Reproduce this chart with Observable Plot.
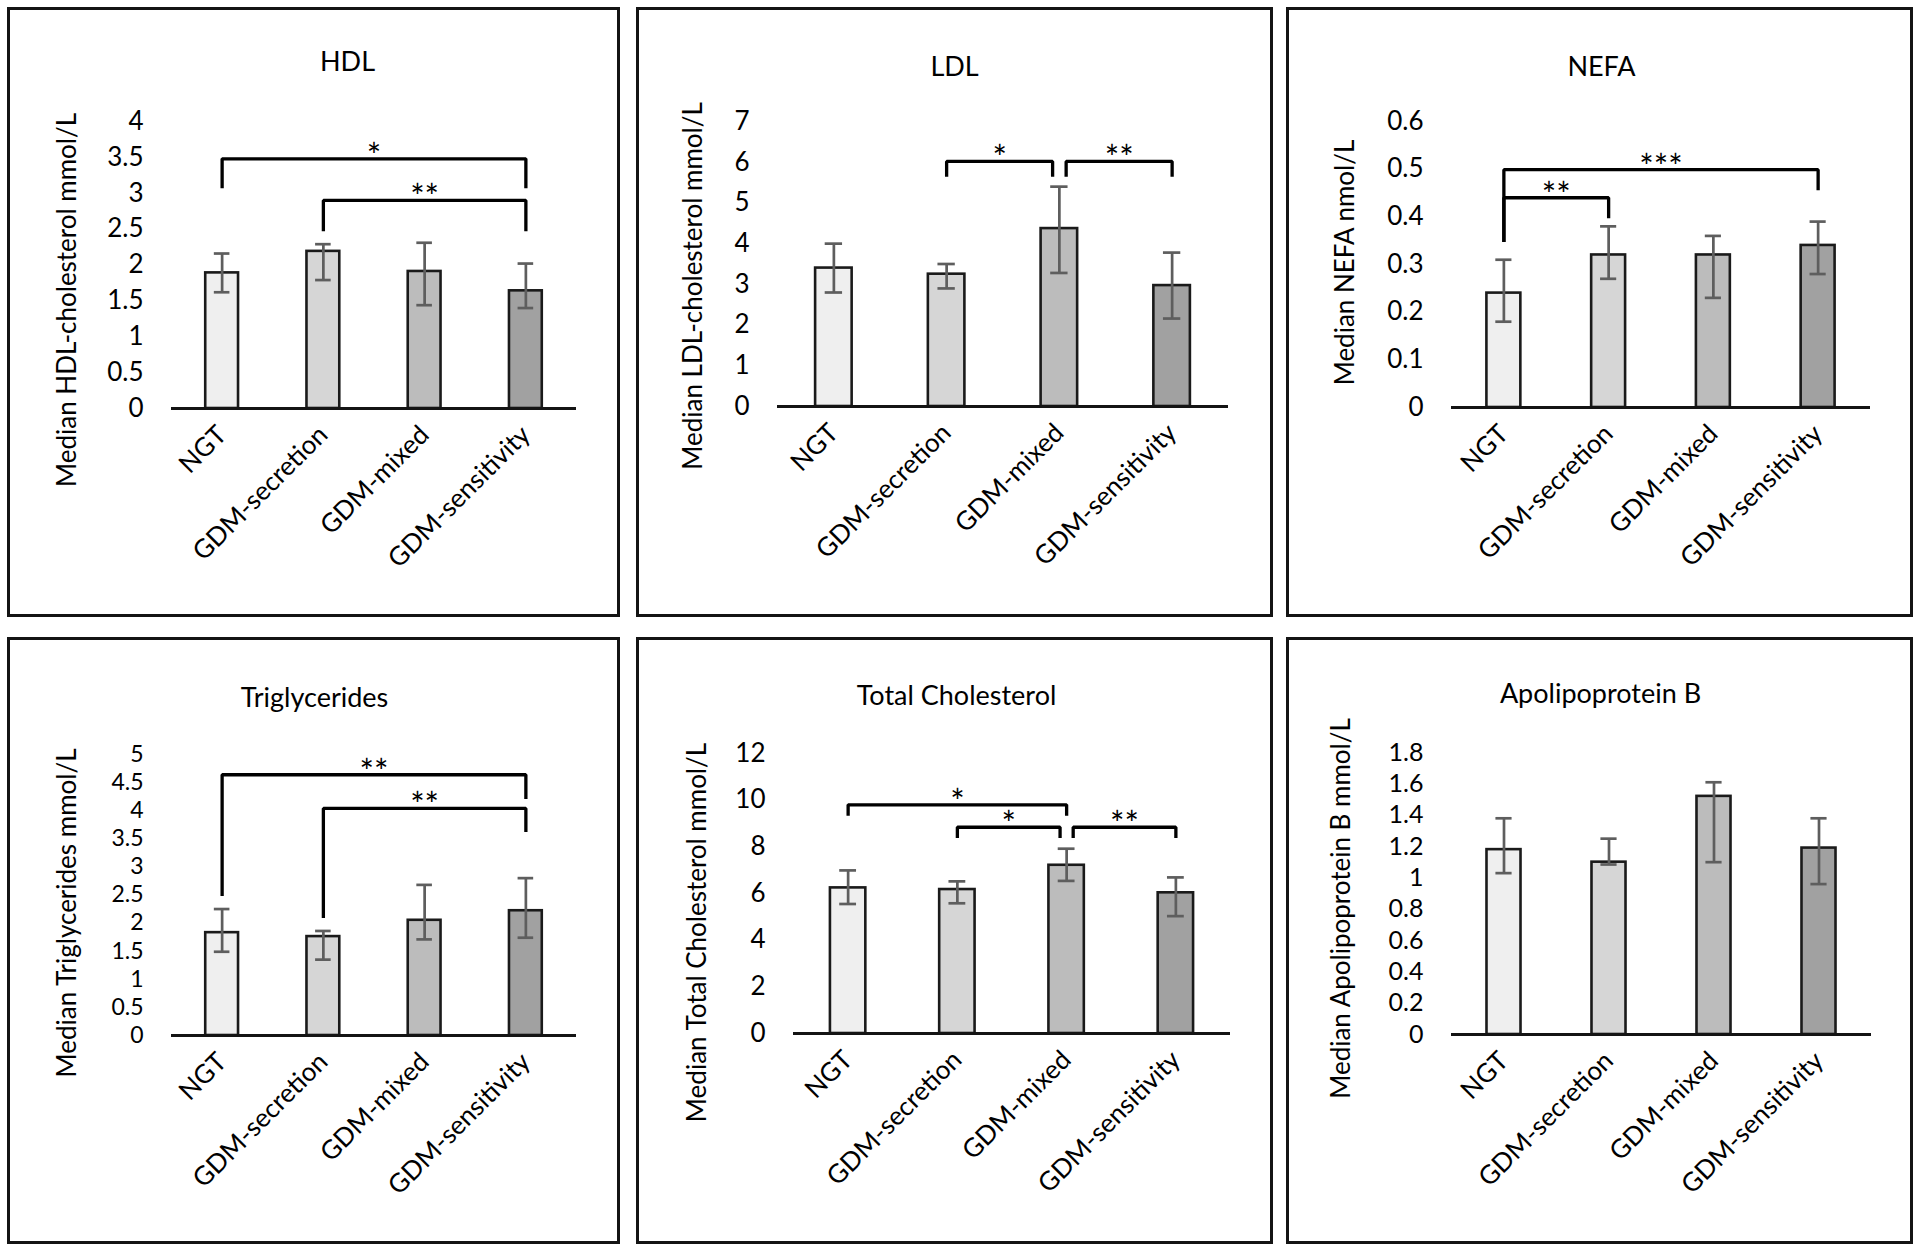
<!DOCTYPE html>
<html>
<head>
<meta charset="utf-8">
<script src="https://cdn.jsdelivr.net/npm/d3@7"></script>
<script src="https://cdn.jsdelivr.net/npm/@observablehq/plot@0.6"></script>
<style>
  html, body { margin: 0; padding: 0; background: #ffffff; }
  body { width: 1920px; height: 1253px; position: relative; overflow: hidden; font-family: Lato, "Open Sans", sans-serif; }
  .panel { position: absolute; box-sizing: border-box; border: 3px solid #141414; pointer-events: none; }
  .chart { position: absolute; }
</style>
</head>
<body>
<script>
// ---------- data ----------
const groups = ["NGT", "GDM-secretion", "GDM-mixed", "GDM-sensitivity"];

const hdlMedian = [1.89, 2.19, 1.91, 1.64];
const hdlLow    = [1.62, 1.79, 1.44, 1.40];
const hdlHigh   = [2.16, 2.29, 2.31, 2.02];
const hdlTicks  = [0, 0.5, 1, 1.5, 2, 2.5, 3, 3.5, 4];
const hdlSig = [
  {from: "NGT", to: "GDM-sensitivity", top: 3.48, fromEnd: 3.07, toEnd: 3.07, label: "*"},
  {from: "GDM-secretion", to: "GDM-sensitivity", top: 2.90, fromEnd: 2.47, toEnd: 2.47, label: "**"}
];

const ldlMedian = [3.40, 3.25, 4.37, 2.97];
const ldlLow    = [2.80, 2.90, 3.28, 2.16];
const ldlHigh   = [4.00, 3.50, 5.40, 3.78];
const ldlTicks  = [0, 1, 2, 3, 4, 5, 6, 7];
const ldlSig = [
  {from: "GDM-secretion", to: "GDM-mixed", top: 6.02, fromEnd: 5.64, toEnd: 5.64, label: "*"},
  {from: "GDM-mixed", to: "GDM-sensitivity", top: 6.02, fromEnd: 5.64, toEnd: 5.64, label: "**"}
];

const nefaMedian = [0.24, 0.32, 0.32, 0.34];
const nefaLow    = [0.18, 0.27, 0.23, 0.28];
const nefaHigh   = [0.31, 0.38, 0.36, 0.39];
const nefaTicks  = [0, 0.1, 0.2, 0.3, 0.4, 0.5, 0.6];
const nefaSig = [
  {from: "NGT", to: "GDM-sensitivity", top: 0.499, fromEnd: 0.347, toEnd: 0.456, label: "***"},
  {from: "NGT", to: "GDM-secretion", top: 0.44, fromEnd: 0.347, toEnd: 0.397, label: "**"}
];

const trigMedian = [1.83, 1.76, 2.05, 2.22];
const trigLow    = [1.49, 1.35, 1.71, 1.74];
const trigHigh   = [2.25, 1.86, 2.68, 2.80];
const trigTicks  = [0, 0.5, 1, 1.5, 2, 2.5, 3, 3.5, 4, 4.5, 5];
const trigSig = [
  {from: "NGT", to: "GDM-sensitivity", top: 4.64, fromEnd: 2.48, toEnd: 4.21, label: "**"},
  {from: "GDM-secretion", to: "GDM-sensitivity", top: 4.04, fromEnd: 2.09, toEnd: 3.62, label: "**"}
];

const tcMedian = [6.24, 6.17, 7.21, 6.03];
const tcLow    = [5.55, 5.58, 6.54, 5.03];
const tcHigh   = [6.99, 6.52, 7.92, 6.69];
const tcTicks  = [0, 2, 4, 6, 8, 10, 12];
const tcSig = [
  {from: "NGT", to: "GDM-mixed", top: 9.80, fromEnd: 9.33, toEnd: 9.33, label: "*"},
  {from: "GDM-secretion", to: "GDM-mixed", top: 8.84, fromEnd: 8.38, toEnd: 8.38, label: "*"},
  {from: "GDM-mixed", to: "GDM-sensitivity", top: 8.84, fromEnd: 8.38, toEnd: 8.38, label: "**"}
];

const apobMedian = [1.18, 1.10, 1.52, 1.19];
const apobLow    = [1.03, 1.085, 1.10, 0.96];
const apobHigh   = [1.38, 1.25, 1.61, 1.38];
const apobTicks  = [0, 0.2, 0.4, 0.6, 0.8, 1, 1.2, 1.4, 1.6, 1.8];
const apobSig = [];

// ---------- styles / layout ----------
const barFills = ["#efefef", "#d6d6d6", "#bcbcbc", "#a1a1a1"];
const FONT = "Lato, 'Open Sans', sans-serif";
const BAR_HALF = 0.162;
const CAP_HALF = 0.077;
const SHARED_GAP = 0.06;

const panels = [
  {title: "HDL", ylabel: "Median HDL-cholesterol mmol/L", median: hdlMedian, low: hdlLow, high: hdlHigh, ticks: hdlTicks, sig: hdlSig, tickFont: 26,
   left: 7, top: 7, w: 613, h: 610, ml: 164, mr: 44, mt: 114, mb: 209, tdx: 176, tdy: -70, ldx: -104, ldy: 35},
  {title: "LDL", ylabel: "Median LDL-cholesterol mmol/L", median: ldlMedian, low: ldlLow, high: ldlHigh, ticks: ldlTicks, sig: ldlSig, tickFont: 26,
   left: 636, top: 7, w: 637, h: 610, ml: 141, mr: 45, mt: 114, mb: 211, tdx: 177, tdy: -65, ldx: -84, ldy: 22},
  {title: "NEFA", ylabel: "Median NEFA nmol/L", median: nefaMedian, low: nefaLow, high: nefaHigh, ticks: nefaTicks, sig: nefaSig, tickFont: 26,
   left: 1286, top: 7, w: 627, h: 610, ml: 165, mr: 43, mt: 114, mb: 210, tdx: 150, tdy: -65, ldx: -106, ldy: -2},
  {title: "Triglycerides", ylabel: "Median Triglycerides mmol/L", median: trigMedian, low: trigLow, high: trigHigh, ticks: trigTicks, sig: trigSig, tickFont: 23,
   left: 7, top: 637, w: 613, h: 607, ml: 164, mr: 44, mt: 117, mb: 209, tdx: 143, tdy: -67, ldx: -104, ldy: 18},
  {title: "Total Cholesterol", ylabel: "Median Total Cholesterol mmol/L", median: tcMedian, low: tcLow, high: tcHigh, ticks: tcTicks, sig: tcSig, tickFont: 26,
   left: 636, top: 637, w: 637, h: 607, ml: 157, mr: 43, mt: 116, mb: 211, tdx: 163, tdy: -68, ldx: -96, ldy: 39},
  {title: "Apolipoprotein B", ylabel: "Median Apolipoprotein B mmol/L", median: apobMedian, low: apobLow, high: apobHigh, ticks: apobTicks, sig: apobSig, tickFont: 25,
   left: 1286, top: 637, w: 627, h: 607, ml: 165, mr: 42, mt: 115, mb: 210, tdx: 149, tdy: -69, ldx: -110, ldy: 15}
];

function bracketGeometry(sig) {
  // nudge ends where two brackets at the same height meet at one category
  const pts = [], mids = [];
  sig.forEach((b, k) => {
    let xa = groups.indexOf(b.from), xb = groups.indexOf(b.to);
    sig.forEach((o, j) => {
      if (j === k || o.top !== b.top) return;
      if (o.from === b.to) xb -= SHARED_GAP;
      if (o.to === b.from) xa += SHARED_GAP;
    });
    pts.push({id: k, x: xa, y: b.fromEnd}, {id: k, x: xa, y: b.top}, {id: k, x: xb, y: b.top}, {id: k, x: xb, y: b.toEnd});
    mids.push({x: (xa + xb) / 2, y: b.top, label: b.label});
  });
  return {pts, mids};
}

for (const p of panels) {
  const idx = d3.range(groups.length);
  const caps = idx.flatMap(i => [{i, v: p.low[i]}, {i, v: p.high[i]}]);
  const {pts, mids} = bracketGeometry(p.sig);
  const fmt = d3.format("~g");

  const chart = Plot.plot({
    width: p.w,
    height: p.h,
    marginLeft: p.ml,
    marginRight: p.mr,
    marginTop: p.mt,
    marginBottom: p.mb,
    style: {fontFamily: FONT, fontSize: "26px", color: "#000", background: "transparent", overflow: "visible"},
    x: {type: "linear", domain: [-0.5, groups.length - 0.5], axis: null},
    y: {domain: [0, p.ticks[p.ticks.length - 1]], axis: null},
    marks: [
      Plot.rectY(idx, {x1: i => i - BAR_HALF, x2: i => i + BAR_HALF, y1: 0, y2: i => p.median[i], fill: i => barFills[i], stroke: "#1a1a1a", strokeWidth: 2.6}),
      Plot.ruleX(idx, {x: i => i, y1: i => p.low[i], y2: i => p.high[i], stroke: "#5e5e5e", strokeWidth: 2.7}),
      Plot.ruleY(caps, {x1: d => d.i - CAP_HALF, x2: d => d.i + CAP_HALF, y: d => d.v, stroke: "#5e5e5e", strokeWidth: 2.7}),
      Plot.ruleY([0], {stroke: "#141414", strokeWidth: 3}),
      Plot.line(pts, {x: "x", y: "y", z: "id", stroke: "#000", strokeWidth: 3.3, strokeLinejoin: "miter", strokeLinecap: "butt"}),
      Plot.text(mids, {x: "x", y: "y", text: "label", dy: -2, fontSize: 34, fill: "#000"}),
      Plot.axisY(p.ticks, {tickSize: 0, tickPadding: 28, tickFormat: fmt, label: null, fontSize: p.tickFont, fill: "#000"}),
      Plot.axisX(idx, {tickSize: 0, tickPadding: 22, tickRotate: -45, tickFormat: i => groups[i], label: null, fontSize: 26, fill: "#000"}),
      Plot.text([p.title], {frameAnchor: "top-left", dx: p.tdx, dy: p.tdy, fontSize: 27, fill: "#000", textAnchor: "middle"}),
      Plot.text([p.ylabel], {frameAnchor: "left", rotate: -90, dx: p.ldx, dy: p.ldy, fontSize: 26, fill: "#000", textAnchor: "middle"})
    ]
  });
  chart.classList.add("chart");
  chart.style.left = p.left + "px";
  chart.style.top = p.top + "px";
  document.body.appendChild(chart);

  const box = document.createElement("div");
  box.className = "panel";
  box.style.left = p.left + "px";
  box.style.top = p.top + "px";
  box.style.width = p.w + "px";
  box.style.height = p.h + "px";
  document.body.appendChild(box);
}
</script>
</body>
</html>
